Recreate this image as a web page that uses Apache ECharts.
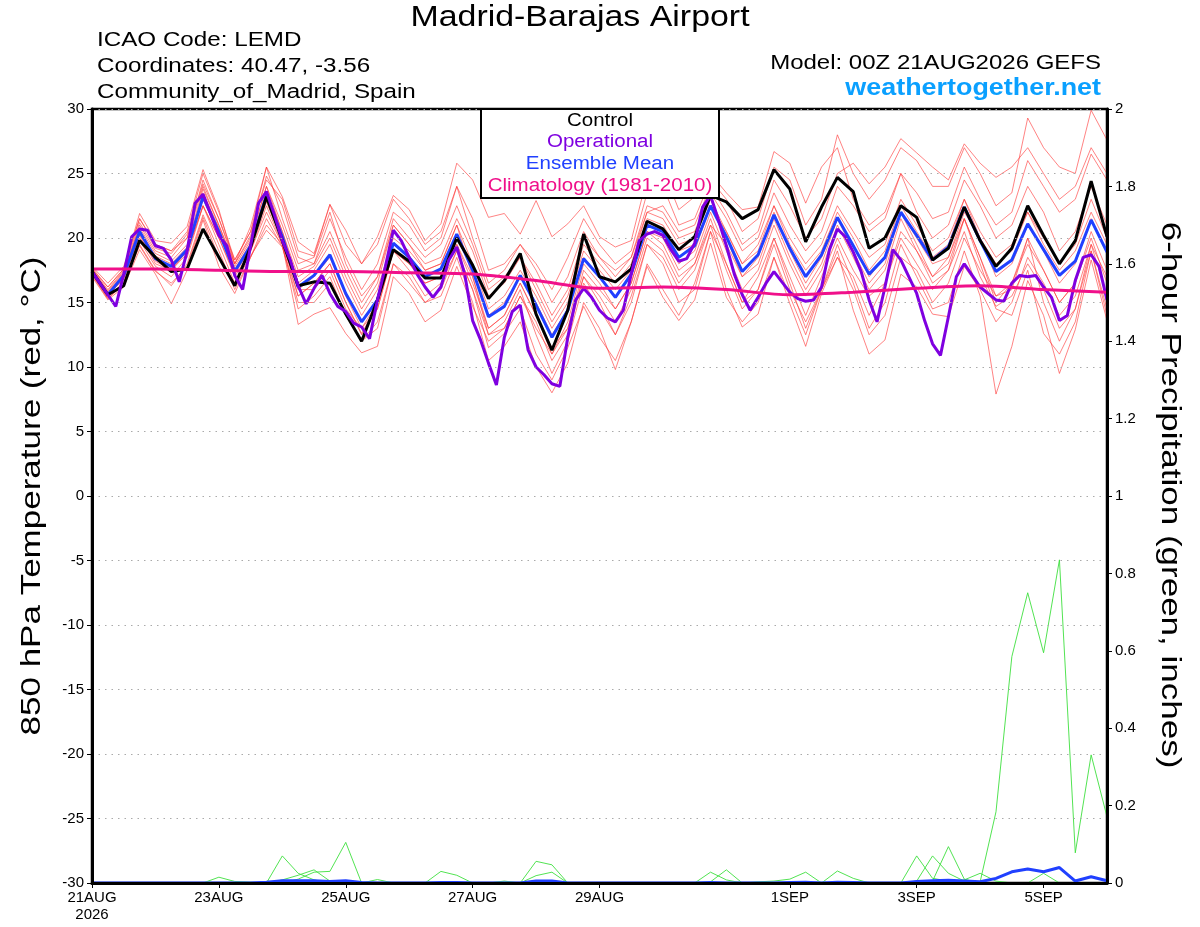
<!DOCTYPE html>
<html>
<head>
<meta charset="utf-8">
<title>Madrid-Barajas Airport</title>
<script src="https://cdn.jsdelivr.net/npm/echarts@6/dist/echarts.min.js"></script>
<style>
  html, body { margin: 0; padding: 0; background: #fff; }
  #main { width: 1200px; height: 927px; }
</style>
</head>
<body>
<div id="main"></div>
<script>
// forecast hours, 6-hourly for the ensemble, 3-hourly for the operational run
var hours6 = [];
for (var h = 0; h <= 384; h += 6) hours6.push(h);
var hours3 = [];
for (var h3 = 0; h3 <= 384; h3 += 3) hours3.push(h3);

var tickHours = [0, 48, 96, 144, 192, 264, 312, 360];
var tickLabels = ['21AUG\n2026', '23AUG', '25AUG', '27AUG', '29AUG', '1SEP', '3SEP', '5SEP'];

// 850 hPa temperature, control run (black)
var control = [17.4,15.6,16.3,19.8, 18.5,17.4,17.6,20.7, 18.5,16.3,19.3,23.2, 19.8,16.3,16.6,16.5,
  14.1,12.0,15.2,19.1, 18.2,16.9,16.9,20.0, 17.9,15.3,16.7,18.8, 14.1,11.3,14.4,20.3,
  17.0,16.6,17.6,21.3, 20.7,19.1,20.1,23.3, 22.8,21.5,22.2,25.3, 23.8,19.7,22.4,24.7,
  23.6,19.2,20.0,22.5, 21.6,18.3,19.2,22.4, 19.8,17.8,19.2,22.5, 20.2,18.0,19.8,24.4, 20.1];

// ensemble mean (blue)
var ensMean = [17.4,15.6,17.1,20.5, 18.4,17.8,19.1,23.2, 20.5,17.4,19.4,23.3, 20.1,16.2,17.1,18.7,
  15.7,13.5,15.2,19.6, 18.5,17.0,17.6,20.3, 17.5,13.9,14.7,17.1, 14.8,12.3,14.4,18.4,
  17.0,15.4,17.2,21.0, 20.5,18.5,19.4,22.5, 20.1,17.4,18.7,21.8, 19.2,17.0,18.7,21.6,
  19.4,17.2,18.5,22.0, 20.2,18.3,19.3,22.4, 19.8,17.4,18.3,21.1, 19.1,17.1,18.2,21.4, 18.9];

// operational run (purple), 3-hourly
var operational = [17.4,16.5,15.6,14.7,17.2,20.1,20.7,20.6,19.4,19.2,
  18.3,16.6,19.0,22.7,23.4,21.8,20.2,19.4,17.1,16.0,
  19.4,22.7,23.6,21.8,19.8,18.3,16.3,14.9,16.1,17.1,
  15.7,14.7,14.3,13.4,13.1,12.2,15.2,17.8,20.6,19.8,
  18.5,17.2,16.2,15.4,16.2,18.3,19.3,17.2,13.6,12.1,
  10.3,8.6,12.3,14.3,14.8,11.3,10.0,9.4,8.7,8.5,
  12.3,15.2,16.1,15.4,14.4,13.8,13.5,14.4,17.2,19.8,
  20.3,20.5,20.2,19.1,18.2,18.4,19.6,22.4,23.3,21.4,
  19.4,17.2,15.6,14.4,15.4,16.5,17.4,16.6,15.8,15.3,
  15.1,15.2,16.2,19.1,20.7,20.1,18.9,17.4,15.2,13.5,
  16.2,19.1,18.3,17.0,15.7,13.6,11.8,10.9,13.9,17.0,
  18.0,17.1,16.2,15.7,15.2,15.1,16.5,17.1,17.0,17.1,
  16.2,15.4,13.6,14.0,16.7,18.5,18.7,17.8,15.2];

// climatology 1981-2010 (magenta), daily
var climHours = [0,24,48,72,96,120,144,168,192,216,240,264,288,312,336,360,384];
var climatology = [17.6,17.6,17.5,17.4,17.4,17.3,17.2,16.7,16.1,16.2,16.0,15.6,15.8,16.1,16.3,16.0,15.8];

// ensemble members (thin red)
var tempMembers = [
  [17.6,15.8,17.3,21.0, 19.0,18.5,20.0,24.5, 21.5,18.0,20.2,24.8, 22.5,18.5,18.0,21.5, 18.5,16.0,18.0,22.0,
   21.0,19.0,20.0,24.0, 21.5,17.5,18.0,19.5, 18.0,16.0,18.5,21.5, 19.5,18.0,19.0,23.5, 24.0,21.0,21.5,24.5,
   23.0,20.5,21.5,25.5, 24.5,21.0,23.0,28.0, 25.0,23.0,24.5,27.0, 26.0,24.0,24.0,27.0, 25.0,22.5,23.5,29.3,
   27.0,25.5,25.0,29.9, 27.6],
  [17.2,15.3,16.5,19.8, 17.8,17.0,18.5,22.5, 19.5,16.5,19.0,22.0, 19.5,14.5,15.5,17.0, 14.0,12.0,13.5,18.0,
   16.5,15.0,15.5,18.5, 15.0,10.5,11.6,13.5, 10.0,8.0,10.3,15.0, 13.0,9.8,13.5,18.0, 16.0,14.0,16.5,20.5,
   18.0,15.0,17.0,20.0, 17.0,14.0,17.0,20.0, 17.5,15.5,16.5,20.5, 19.0,17.0,18.0,21.5, 18.5,15.5,16.5,19.5,
   17.5,15.0,16.5,20.0, 16.5],
  [17.0,15.2,16.2,19.1, 17.2,14.9,17.5,21.4, 17.8,15.7,18.5,21.5, 19.3,15.5,16.5,18.0, 15.0,12.5,14.5,19.0,
   17.5,15.5,16.5,19.0, 16.0,12.5,13.0,15.5, 13.0,11.0,13.0,17.0, 15.5,13.5,16.0,20.0, 19.0,16.5,18.0,21.0,
   17.5,14.5,16.0,19.5, 16.0,13.5,16.0,19.5, 16.5,13.0,15.0,19.5, 17.0,14.5,15.0,19.0, 15.5,7.9,11.6,16.7,
   14.0,9.5,12.9,18.3, 13.6],
  [17.8,16.5,17.8,21.5, 19.5,19.0,20.5,25.0, 22.0,18.3,20.5,25.5, 23.2,19.7,18.8,22.6, 20.6,18.0,20.1,23.3,
   22.2,19.8,21.1,25.8, 24.5,21.6,21.9,20.3, 22.9,20.1,21.1,22.5, 20.1,19.3,19.8,24.7, 25.3,22.2,23.2,25.0,
   23.5,22.2,22.4,26.7, 25.8,22.7,25.5,27.0, 23.0,21.0,22.0,25.0, 22.0,20.0,21.0,24.5, 22.5,20.0,21.0,24.0,
   22.0,19.0,20.5,24.0, 21.0],
  [17.3,15.5,17.0,20.2, 18.0,17.5,19.0,22.5, 20.0,17.0,19.0,22.5, 19.5,16.0,16.0,17.5, 14.5,13.0,14.5,19.0,
   18.0,16.5,17.0,19.5, 16.5,13.0,14.0,16.5, 14.0,11.5,13.0,17.5, 16.0,14.5,16.5,20.5, 19.5,17.0,18.0,21.5,
   18.0,15.0,16.0,20.0, 16.5,13.0,16.0,19.0, 14.4,11.0,12.1,17.2, 16.2,14.1,13.9,17.8, 16.0,13.5,15.0,18.5,
   16.5,14.0,15.5,19.5, 17.0],
  [17.5,15.9,17.4,20.8, 18.8,18.2,19.5,23.8, 21.0,17.8,19.8,24.0, 20.5,17.0,17.8,20.0, 17.0,14.5,16.5,21.0,
   19.5,18.0,18.5,21.5, 19.0,15.5,16.5,18.5, 16.5,14.0,16.0,20.0, 18.5,17.0,18.5,22.5, 22.0,20.0,20.5,23.5,
   21.5,19.0,20.0,23.5, 21.0,19.0,20.5,24.0, 22.5,20.5,21.5,25.0, 23.5,21.5,22.0,25.5, 23.0,21.0,22.0,26.0,
   24.0,22.0,23.0,26.5, 24.5],
  [17.4,15.6,16.8,20.0, 18.2,17.5,18.8,22.5, 20.0,17.2,19.2,22.8, 19.8,15.5,16.5,18.0, 15.0,12.6,14.8,19.0,
   18.0,16.5,17.0,19.5, 17.0,13.0,14.0,16.5, 14.0,11.0,13.5,18.0, 16.5,14.5,16.5,20.5, 20.0,17.5,18.5,22.0,
   19.0,16.0,17.5,21.0, 18.0,15.5,17.5,21.0, 18.5,16.0,17.5,21.5, 19.0,16.5,17.5,21.5, 18.5,15.0,16.5,20.0,
   17.5,15.0,16.5,20.5, 17.5],
  [17.7,16.2,17.6,21.9, 19.8,19.6,20.9,25.3, 22.2,18.0,20.9,25.5, 21.5,18.0,18.5,22.0, 18.0,15.5,17.0,21.0,
   19.5,17.5,18.0,21.0, 17.0,12.5,13.5,16.0, 12.5,9.5,12.0,16.5, 14.5,12.5,15.0,19.5, 18.0,15.0,16.0,20.5,
   16.0,13.1,14.1,18.5, 14.9,11.6,15.7,18.5, 17.0,14.0,16.5,20.0, 18.0,16.0,17.5,20.5, 17.0,14.7,15.5,18.0,
   16.0,13.0,14.5,19.5, 15.5],
  [17.2,15.4,16.6,19.5, 17.5,16.3,18.0,21.8, 19.0,16.0,18.5,21.0, 19.5,13.3,14.1,14.6, 12.6,11.1,11.6,17.0,
   15.7,13.5,14.4,17.8, 14.7,12.0,13.0,15.5, 13.5,10.5,12.5,17.0, 15.0,12.5,15.5,19.5, 18.5,16.0,17.5,21.0,
   19.5,17.0,18.0,21.5, 18.5,16.0,18.0,21.5, 19.0,16.5,18.0,22.0, 19.5,17.0,18.5,22.0, 20.0,17.0,18.0,21.0,
   19.0,16.5,18.0,21.5, 19.0],
  [17.6,16.0,17.5,21.2, 19.2,18.8,20.3,24.2, 21.5,18.3,20.5,24.5, 23.0,19.0,18.6,22.6, 19.5,18.0,19.5,23.0,
   21.5,19.5,20.5,24.0, 20.0,16.5,17.5,19.5, 17.5,15.0,17.0,20.5, 18.5,17.5,18.5,22.0, 21.5,19.5,20.0,23.0,
   20.5,18.0,19.5,22.5, 20.0,18.0,19.5,22.5, 20.5,18.5,19.5,23.0, 21.0,19.0,20.0,23.0, 20.5,18.5,19.5,22.0,
   20.0,18.0,19.5,23.0, 20.0],
  [17.5,15.7,17.2,20.6, 18.6,18.0,19.3,23.5, 20.8,17.6,19.6,23.6, 20.5,16.5,17.5,19.5, 16.5,14.0,16.0,20.0,
   19.0,17.5,18.0,21.0, 18.0,14.5,15.5,17.5, 15.5,13.0,15.0,19.0, 17.5,16.0,17.5,21.5, 21.0,19.0,19.5,22.5,
   20.5,18.0,19.0,22.5, 19.5,17.5,19.0,22.0, 20.0,17.5,19.0,22.5, 20.5,18.5,19.5,23.0, 20.0,18.0,19.0,22.0,
   19.5,17.5,19.0,22.0, 19.5],
  [17.3,15.5,16.9,20.3, 18.3,17.6,19.0,23.0, 20.3,17.3,19.3,23.0, 20.0,16.0,17.0,18.5, 15.5,13.0,15.0,19.5,
   18.5,17.0,17.5,20.0, 17.5,14.0,15.0,17.0, 15.0,12.5,14.5,18.5, 17.0,15.5,17.0,21.0, 20.5,18.0,19.0,22.5,
   20.0,17.0,18.5,22.0, 19.0,16.5,18.5,21.5, 19.5,17.0,18.5,22.0, 20.0,18.0,18.5,21.5, 18.0,14.5,14.0,17.5,
   12.6,11.0,13.5,19.0, 14.5],
  [17.6,16.2,17.6,21.5, 19.5,19.0,20.0,24.0, 21.0,18.0,20.0,24.0, 21.0,17.5,18.0,20.5, 17.5,15.0,17.0,21.5,
   20.0,18.5,19.5,22.5, 19.5,16.0,17.0,18.5, 16.0,13.5,15.5,19.5, 18.0,16.5,18.0,22.0, 22.5,20.5,21.0,24.0,
   22.0,19.5,20.5,24.5, 22.5,20.0,21.5,25.0, 25.8,24.2,25.5,27.7, 26.6,25.5,24.5,27.3, 25.8,24.7,25.5,27.0,
   25.0,23.0,24.0,27.0, 25.0],
  [17.1,15.3,16.4,19.4, 17.4,16.5,17.8,21.6, 18.5,16.5,18.6,20.6, 19.3,15.0,15.0,16.5, 14.0,12.0,13.0,18.0,
   17.0,15.0,16.0,19.0, 16.0,11.5,12.6,14.5, 11.0,9.0,11.5,14.7, 12.3,10.5,13.5,17.8, 15.4,13.6,15.2,19.6,
   15.4,13.5,15.0,18.5, 15.5,12.5,16.0,18.5, 16.0,12.5,14.0,18.5, 17.5,15.0,16.5,20.0, 17.5,15.5,16.0,20.0,
   15.0,12.0,14.5,19.0, 14.0]
];

// 6-hour precipitation, ensemble members (thin green), inches
var precipMembers = [
  [0,0,0,0,0,0,0,0,0,0, 0,0,0.07,0.025,0.008,0,0,0,0,0, 0,0,0,0,0,0,0,0,0,0, 0,0,0,0,0,0,0,0,0,0, 0,0,0,0,0,0,0,0,0,0, 0,0,0,0,0,0,0,0,0,0, 0,0,0,0,0],
  [0,0,0,0,0,0,0,0,0,0, 0,0,0.008,0.02,0.034,0.005,0,0,0,0, 0,0,0,0,0,0,0,0,0,0, 0,0,0,0,0,0,0,0,0,0, 0,0,0,0,0,0,0,0,0,0, 0,0,0,0,0,0,0,0,0,0, 0,0,0,0,0],
  [0,0,0,0,0,0,0,0,0,0, 0,0,0,0.01,0.028,0.03,0.105,0,0,0, 0,0,0,0,0,0,0,0,0,0, 0,0,0,0,0,0,0,0,0,0, 0,0,0,0,0,0,0,0,0,0, 0,0,0,0,0,0,0,0,0,0, 0,0,0,0,0],
  [0,0,0,0,0,0,0,0,0,0, 0,0,0,0,0,0,0,0,0.009,0, 0,0,0,0,0,0,0,0,0,0, 0,0,0,0,0,0,0,0,0,0, 0,0,0,0,0,0,0,0,0,0, 0,0,0,0,0,0,0,0,0,0, 0,0,0,0,0],
  [0,0,0,0,0,0,0,0,0.015,0.004, 0.002,0,0,0,0,0,0,0,0,0, 0,0,0,0,0,0,0,0,0,0, 0,0,0,0,0,0,0,0,0,0, 0,0,0,0,0,0,0,0,0,0, 0,0,0,0,0,0,0,0,0,0, 0,0,0,0,0],
  [0,0,0,0,0,0,0,0,0,0, 0,0,0,0,0,0,0,0,0,0, 0,0,0.03,0.02,0,0,0,0,0,0, 0,0,0,0,0,0,0,0,0,0, 0,0,0,0,0,0,0,0,0,0, 0,0,0,0,0,0,0,0,0,0, 0,0,0,0,0],
  [0,0,0,0,0,0,0,0,0,0, 0,0,0,0,0,0,0,0,0,0, 0,0,0,0,0,0,0.005,0,0.056,0.047, 0,0,0,0,0,0,0,0,0,0, 0,0,0,0,0,0,0,0,0,0, 0,0,0,0,0,0,0,0,0,0, 0,0,0,0,0],
  [0,0,0,0,0,0,0,0,0,0, 0,0,0,0,0,0,0,0,0,0, 0,0,0,0,0,0,0,0,0.019,0.028, 0,0,0,0,0,0,0,0,0,0, 0,0,0,0,0,0,0,0,0,0, 0,0,0,0,0,0,0,0,0,0, 0,0,0,0,0],
  [0,0,0,0,0,0,0,0,0,0, 0,0,0,0,0,0,0,0,0,0, 0,0,0,0,0,0,0,0,0,0, 0,0,0,0,0,0,0,0,0,0.028, 0.008,0,0,0,0,0,0,0,0,0, 0,0,0,0,0,0,0,0,0,0, 0,0,0,0,0],
  [0,0,0,0,0,0,0,0,0,0, 0,0,0,0,0,0,0,0,0,0, 0,0,0,0,0,0,0,0,0,0, 0,0,0,0,0,0,0,0,0,0.003, 0.034,0,0,0,0,0,0,0,0,0, 0,0,0,0,0,0,0,0,0,0, 0,0,0,0,0],
  [0,0,0,0,0,0,0,0,0,0, 0,0,0,0,0,0,0,0,0,0, 0,0,0,0,0,0,0,0,0,0, 0,0,0,0,0,0,0,0,0,0, 0,0,0.003,0.005,0.01,0.028,0,0.031,0.012,0, 0,0,0,0,0,0,0,0,0,0, 0,0,0,0,0],
  [0,0,0,0,0,0,0,0,0,0, 0,0,0,0,0,0,0,0,0,0, 0,0,0,0,0,0,0,0,0,0, 0,0,0,0,0,0,0,0,0,0, 0,0,0,0,0,0,0,0,0,0, 0,0,0.07,0.012,0.005,0,0,0,0,0, 0,0,0,0,0],
  [0,0,0,0,0,0,0,0,0,0, 0,0,0,0,0,0,0,0,0,0, 0,0,0,0,0,0,0,0,0,0, 0,0,0,0,0,0,0,0,0,0, 0,0,0,0,0,0,0,0,0,0, 0,0,0.005,0.07,0.025,0.005,0,0,0,0, 0,0,0,0,0],
  [0,0,0,0,0,0,0,0,0,0, 0,0,0,0,0,0,0,0,0,0, 0,0,0,0,0,0,0,0,0,0, 0,0,0,0,0,0,0,0,0,0, 0,0,0,0,0,0,0,0,0,0, 0,0,0,0.005,0.094,0.01,0,0,0,0, 0,0,0,0,0],
  [0,0,0,0,0,0,0,0,0,0, 0,0,0,0,0,0,0,0,0,0, 0,0,0,0,0,0,0,0,0,0, 0,0,0,0,0,0,0,0,0,0, 0,0,0,0,0,0,0,0,0,0, 0,0,0,0,0,0.008,0.025,0.005,0,0, 0,0,0,0,0],
  [0,0,0,0,0,0,0,0,0,0, 0,0,0,0,0,0,0,0,0,0, 0,0,0,0,0,0,0,0,0,0, 0,0,0,0,0,0,0,0,0,0, 0,0,0,0,0,0,0,0,0,0, 0,0,0,0,0,0,0.003,0.184,0.585,0.75, 0.595,0.835,0.078,0.331,0.171],
  [0,0,0,0,0,0,0,0,0,0, 0,0,0,0,0,0,0,0,0,0, 0,0,0,0,0,0,0,0,0,0, 0,0,0,0,0,0,0,0,0,0, 0,0,0,0,0,0,0,0,0,0, 0,0,0,0,0,0,0,0,0,0, 0.025,0,0,0,0]
];

// ensemble mean precipitation (thick blue)
var precipMean = [0,0,0,0,0,0,0,0,0,0, 0,0.002,0.006,0.006,0.006,0.004,0.006,0.001,0,0,
  0,0,0.001,0.001,0,0,0,0,0.005,0.005, 0,0,0,0,0,0,0,0,0,0.001,
  0,0,0,0,0.001,0.002,0,0.002,0.001,0, 0,0,0.004,0.006,0.007,0.005,0.003,0.012,0.029,0.036,
  0.029,0.04,0.005,0.016,0.006];

var FONT = "'Liberation Sans', Arial, Helvetica, sans-serif";

function pairs(xs, ys) {
  return ys.map(function (v, i) { return [xs[i], v]; });
}

// wide GrADS-style text: Helvetica stretched horizontally
function label(text, x, y, size, color, align, stretch, extra) {
  var el = {
    type: 'text', x: x, y: y, z: 101, scaleX: stretch,
    style: { text: text, font: size + 'px ' + FONT, fill: color, textAlign: align, textVerticalAlign: 'middle' }
  };
  if (extra) {
    for (var k in extra) el[k] = extra[k];
  }
  return el;
}

var series = [];
tempMembers.forEach(function (m, k) {
  series.push({
    name: 'member' + (k + 1), type: 'line', yAxisIndex: 0, data: pairs(hours6, m),
    symbol: 'none', silent: true, z: 1,
    lineStyle: { color: 'rgba(255,60,60,0.8)', width: 0.8 }
  });
});
precipMembers.forEach(function (m, k) {
  series.push({
    name: 'precip' + (k + 1), type: 'line', yAxisIndex: 1, data: pairs(hours6, m),
    symbol: 'none', silent: true, z: 2,
    lineStyle: { color: '#3ee03e', width: 0.9 }
  });
});
series.push({
  name: 'Precip Mean', type: 'line', yAxisIndex: 1, data: pairs(hours6, precipMean),
  symbol: 'none', silent: true, z: 3, lineStyle: { color: '#2040ff', width: 3 }
});
series.push({
  name: 'Ensemble Mean', type: 'line', yAxisIndex: 0, data: pairs(hours6, ensMean),
  symbol: 'none', silent: true, z: 4, lineStyle: { color: '#2040ff', width: 3 }
});
series.push({
  name: 'Control', type: 'line', yAxisIndex: 0, data: pairs(hours6, control),
  symbol: 'none', silent: true, z: 5, lineStyle: { color: '#000000', width: 3 }
});
series.push({
  name: 'Operational', type: 'line', yAxisIndex: 0, data: pairs(hours3, operational),
  symbol: 'none', silent: true, z: 6, lineStyle: { color: '#7f00e0', width: 3 }
});
series.push({
  name: 'Climatology (1981-2010)', type: 'line', yAxisIndex: 0, data: pairs(climHours, climatology),
  symbol: 'none', silent: true, z: 7, smooth: 0.3, lineStyle: { color: '#f0108a', width: 3 }
});

var chart = echarts.init(document.getElementById('main'));

chart.setOption({
  animation: false,
  backgroundColor: '#fff',
  textStyle: { fontFamily: FONT },
  grid: {
    left: 92, right: 93, top: 109, bottom: 44,
    show: true, borderColor: '#000', borderWidth: 2.5, backgroundColor: 'transparent'
  },
  xAxis: {
    type: 'value', min: 0, max: 384, z: 20,
    axisLine: { show: true, onZero: false, lineStyle: { color: '#000', width: 3 } },
    axisTick: { show: true, customValues: tickHours, length: 5, lineStyle: { color: '#000', width: 1 } },
    axisLabel: {
      customValues: tickHours, color: '#000', fontSize: 15, fontFamily: FONT, margin: 6, lineHeight: 17,
      formatter: function (v) {
        var k = tickHours.indexOf(v);
        return k >= 0 ? tickLabels[k] : '';
      }
    },
    splitLine: { show: false }
  },
  yAxis: [
    {
      type: 'value', position: 'left', min: -30, max: 30, interval: 5, z: 20,
      axisLine: { show: true, onZero: false, lineStyle: { color: '#000', width: 3 } },
      axisTick: { show: true, length: 5, lineStyle: { color: '#000', width: 1 } },
      axisLabel: { color: '#000', fontSize: 15, fontFamily: FONT, margin: 8 },
      splitLine: { show: true, lineStyle: { color: '#aaa', width: 1, type: [1.5, 5] } }
    },
    {
      type: 'value', position: 'right', min: 0, max: 2, interval: 0.2, z: 20,
      axisLine: { show: true, onZero: false, lineStyle: { color: '#000', width: 3 } },
      axisTick: { show: true, length: 5, lineStyle: { color: '#000', width: 1 } },
      axisLabel: { color: '#000', fontSize: 15, fontFamily: FONT, margin: 8 },
      splitLine: { show: false }
    }
  ],
  graphic: [
    label('Madrid-Barajas Airport', 580, 18, 30, '#000', 'center', 1.13),
    label('ICAO Code: LEMD', 97, 40, 20, '#000', 'left', 1.21),
    label('Coordinates: 40.47, -3.56', 97, 66, 20, '#000', 'left', 1.21),
    label('Community_of_Madrid, Spain', 97, 92, 20, '#000', 'left', 1.21),
    label('Model: 00Z 21AUG2026 GEFS', 1101, 63, 20, '#000', 'right', 1.2),
    {
      type: 'text', x: 1101, y: 89, z: 101, scaleX: 1.17,
      style: { text: 'weathertogether.net', font: 'bold 23px ' + FONT, fill: '#0aa0ff', textAlign: 'right', textVerticalAlign: 'middle' }
    },
    { type: 'rect', z: 100, shape: { x: 481, y: 109, width: 238, height: 89 },
      style: { fill: '#fff', stroke: '#000', lineWidth: 2 } },
    label('Control', 600, 121, 18, '#000', 'center', 1.14),
    label('Operational', 600, 142, 18, '#7f00e0', 'center', 1.14),
    label('Ensemble Mean', 600, 164, 18, '#2040ff', 'center', 1.14),
    label('Climatology (1981-2010)', 600, 186, 18, '#f0108a', 'center', 1.14),
    label('850 hPa Temperature (red, \u00B0C)', 32, 496, 28, '#000', 'center', 1.25, { rotation: Math.PI / 2 }),
    label('6-hour Precipitation (green, inches)', 1170, 495, 28, '#000', 'center', 1.25, { rotation: -Math.PI / 2 })
  ],
  series: series
});
</script>
</body>
</html>
